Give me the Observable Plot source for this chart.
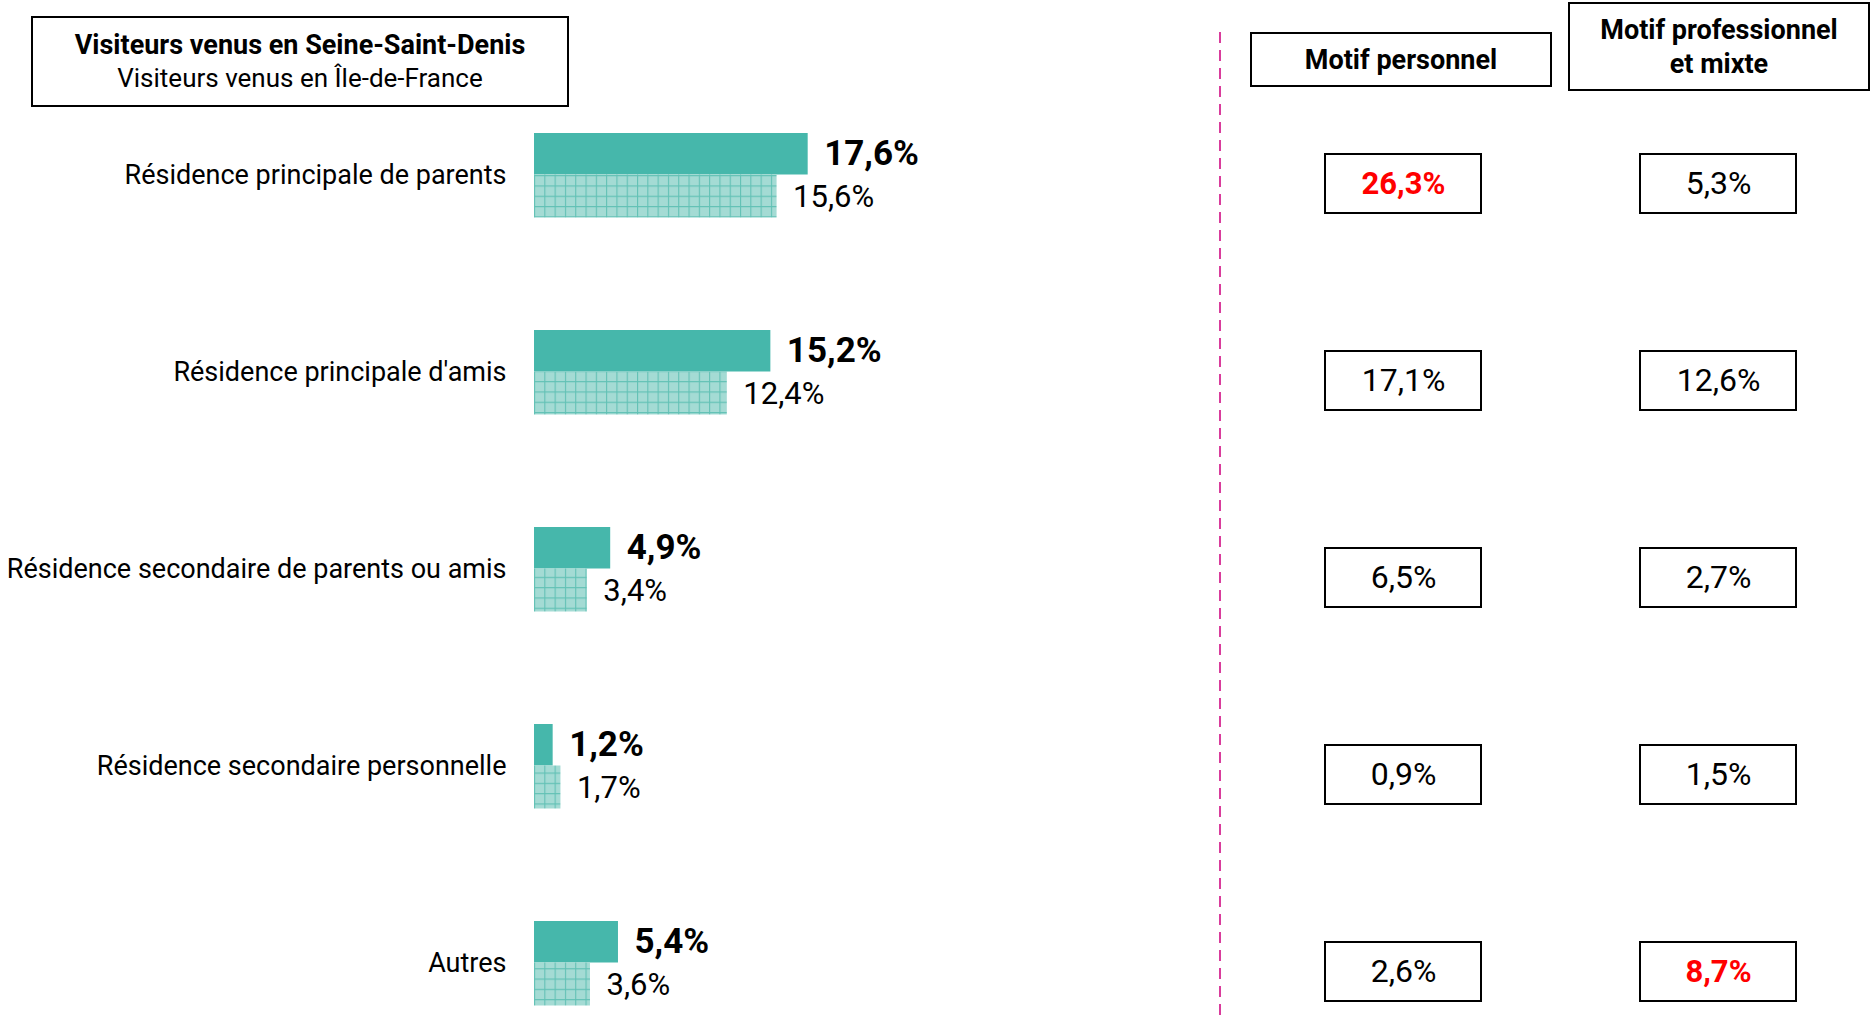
<!DOCTYPE html>
<html><head><meta charset="utf-8">
<script src="https://cdn.jsdelivr.net/npm/d3@7"></script>
<script src="https://cdn.jsdelivr.net/npm/@observablehq/plot@0.6"></script>
<style>
html,body{margin:0;padding:0;background:#fff;}
#wrap{position:relative;width:1872px;height:1016px;font-family:Roboto,"Noto Sans",sans-serif;color:#000;}
.box{position:absolute;border:2px solid #000;box-sizing:border-box;display:flex;flex-direction:column;justify-content:center;align-items:center;text-align:center;background:#fff;}
#legend{left:31px;top:16px;width:538px;height:91px;line-height:33px;}
.h{font-weight:bold;font-size:27px;line-height:34px;}
#left,#right{position:absolute;top:0;}
#left{left:0;}
#right{left:1220px;}
</style></head>
<body>
<div id="wrap">
  <div id="left"></div>
  <div id="right"></div>
  <div class="box" id="legend"><div style="font-weight:bold;font-size:27px">Visiteurs venus en Seine-Saint-Denis</div><div style="font-size:26px">Visiteurs venus en Île-de-France</div></div>
  <div class="box h" id="h1" style="left:1250px;top:32px;width:302px;height:55px;">Motif personnel</div>
  <div class="box h" id="h2" style="left:1568px;top:2px;width:302px;height:89px;">Motif professionnel<br>et mixte</div>
</div>
<script>
const categories = ["Résidence principale de parents", "Résidence principale d'amis", "Résidence secondaire de parents ou amis", "Résidence secondaire personnelle", "Autres"];
const seineSaintDenis = [17.6, 15.2, 4.9, 1.2, 5.4];
const ileDeFrance = [15.6, 12.4, 3.4, 1.7, 3.6];
const motifPersonnel = [26.3, 17.1, 6.5, 0.9, 2.6];
const motifPro = [5.3, 12.6, 2.7, 1.5, 8.7];
const highlightPersonnel = [true, false, false, false, false];
const highlightPro = [false, false, false, false, true];
const columns = ["Motif personnel", "Motif professionnel et mixte"];

const fmt = v => d3.format(".1f")(v).replace(".", ",") + "%";
const rows = categories.map((c, i) => ({cat: c, ssd: seineSaintDenis[i], idf: ileDeFrance[i]}));
const cells = [];
categories.forEach((c, i) => {
  cells.push({cat: c, col: columns[0], v: motifPersonnel[i], hi: highlightPersonnel[i]});
  cells.push({cat: c, col: columns[1], v: motifPro[i], hi: highlightPro[i]});
});

const teal = "#46b7ab";
const defsMark = () => {
  const defs = d3.create("svg:defs");
  const p = defs.append("pattern").attr("id", "grid").attr("patternUnits", "userSpaceOnUse")
    .attr("width", 10.3).attr("height", 10.3).attr("x", 534).attr("y", 0);
  p.append("rect").attr("width", 10.3).attr("height", 10.3).attr("fill", "#a4dbd4");
  p.append("path").attr("d", "M0 0.5H10.3M0.5 0V10.3").attr("stroke", "#62c1b5").attr("stroke-width", 1.2);
  return defs.node();
};
const dashed = (index, scales, values, dims) => {
  const x = dims.width - 2;
  return d3.create("svg:line").attr("x1", x).attr("x2", x).attr("y1", 32).attr("y2", dims.height)
    .attr("stroke", "#d93c9c").attr("stroke-width", 2).attr("stroke-dasharray", "11,7").node();
};

const yRange = [75.5, 1060.5];
const left = Plot.plot({
  width: 1222, height: 1016,
  marginLeft: 534, marginRight: 0, marginTop: 0, marginBottom: 0,
  style: {fontFamily: "Roboto, 'Noto Sans', sans-serif", fontSize: "27px", color: "#000", background: "transparent", overflow: "visible"},
  x: {domain: [0, 20], range: [534, 845], axis: null},
  y: {domain: categories, range: yRange, padding: 0, label: null, tickSize: 0, tickPadding: 28, fontSize: 27},
  marks: [
    defsMark,
    Plot.barX(rows, {x: "ssd", y: "cat", fill: teal, insetTop: 57, insetBottom: 98.5}),
    Plot.barX(rows, {x: "idf", y: "cat", fill: "url(#grid)", insetTop: 98.5, insetBottom: 55.5}),
    Plot.text(rows, {x: "ssd", y: "cat", text: d => fmt(d.ssd), dx: 16, dy: -21, textAnchor: "start", fontWeight: "bold", fontSize: 35}),
    Plot.text(rows, {x: "idf", y: "cat", text: d => fmt(d.idf), dx: 16, dy: 22, textAnchor: "start", fontSize: 31}),
    dashed
  ]
});
document.getElementById("left").appendChild(left);

const right = Plot.plot({
  width: 652, height: 1016,
  marginLeft: 0, marginRight: 0, marginTop: 0, marginBottom: 0,
  style: {fontFamily: "Roboto, 'Noto Sans', sans-serif", fontSize: "32px", color: "#000", background: "transparent", overflow: "visible"},
  x: {domain: columns, range: [25.5, 655.5], paddingInner: 0.5, paddingOuter: 0.25, axis: null},
  y: {domain: categories, range: [yRange[0] + 9, yRange[1] + 9], padding: 0, axis: null},
  marks: [
    Plot.cell(cells, {x: "col", y: "cat", fill: "white", stroke: "black", strokeWidth: 2, insetTop: 69, insetBottom: 69, insetLeft: 1, insetRight: 1}),
    Plot.text(cells.filter(d => !d.hi), {x: "col", y: "cat", text: d => fmt(d.v), fill: "#000", fontSize: 32}),
    Plot.text(cells.filter(d => d.hi), {x: "col", y: "cat", text: d => fmt(d.v), fill: "#ff0000", fontWeight: "bold", fontSize: 31})
  ]
});
document.getElementById("right").appendChild(right);
</script>
</body></html>
